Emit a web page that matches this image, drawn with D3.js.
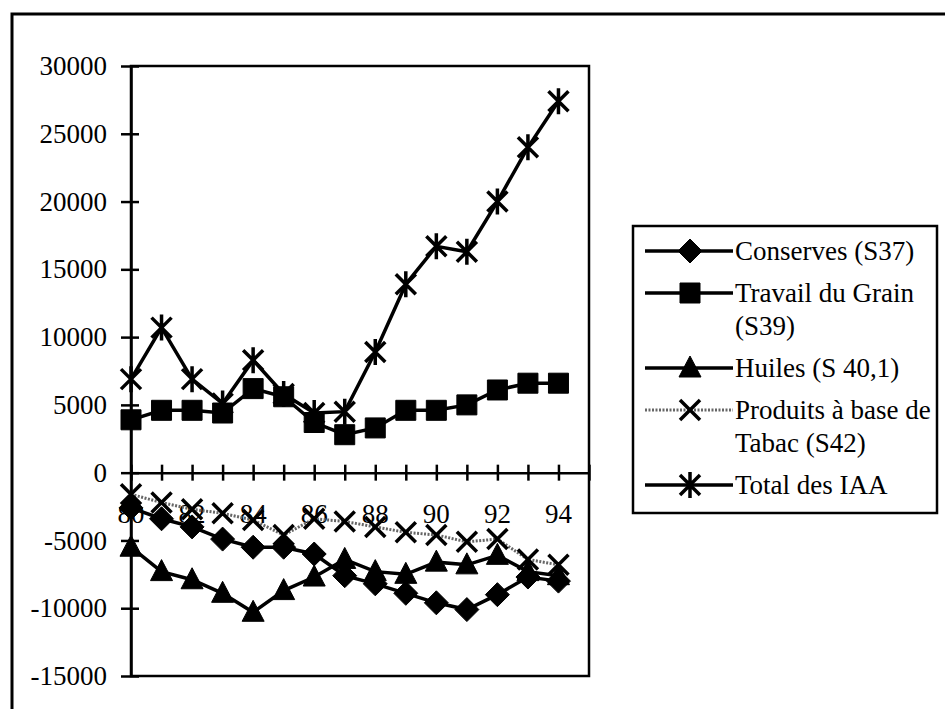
<!DOCTYPE html>
<html>
<head>
<meta charset="utf-8">
<script src="https://cdn.jsdelivr.net/npm/d3@7"></script>
<style>
  html, body { margin: 0; padding: 0; background: #fff; }
  svg { display: block; }
  text { font-family: "Liberation Serif", "Times New Roman", serif; fill: #000; }
</style>
</head>
<body>
<svg id="chart" width="945" height="709"></svg>
<script>
// ---- data ----
const years     = [80, 81, 82, 83, 84, 85, 86, 87, 88, 89, 90, 91, 92, 93, 94];
const yearTicks = [80, 82, 84, 86, 88, 90, 92, 94];
const yTicks    = [-15000, -10000, -5000, 0, 5000, 10000, 15000, 20000, 25000, 30000];

const conserves = [-2600, -3400, -4000, -4900, -5500, -5500, -6000, -7600, -8200, -8900, -9600, -10100, -9000, -7700, -8000];
const travail   = [3900, 4600, 4600, 4400, 6200, 5600, 3700, 2800, 3300, 4600, 4600, 5000, 6100, 6600, 6600];
const huiles    = [-5500, -7300, -7900, -8900, -10300, -8700, -7700, -6400, -7300, -7500, -6600, -6800, -6100, -7300, -7600];
const tabac     = [-1600, -2200, -2700, -3000, -3500, -4600, -3400, -3600, -4000, -4400, -4600, -5100, -4900, -6400, -6800];
const total     = [6900, 10700, 6900, 5100, 8300, 5800, 4400, 4500, 8900, 13900, 16700, 16300, 20000, 24000, 27400];

const seriesNames = ["Conserves (S37)", "Travail du Grain\n(S39)", "Huiles (S 40,1)", "Produits à base de\nTabac (S42)", "Total des IAA"];

// ---- setup ----
const svg = d3.select("#chart");
const L = 131, R = 589, T = 66, B = 676;
const x = d3.scaleLinear().domain([80, 95]).range([L, R]);
const y = d3.scaleLinear().domain([-15000, 30000]).range([B, T]);

// outer frame (top & left visible)
svg.append("path")
  .attr("d", `M12,709 L12,14 L945,14`)
  .attr("fill", "none").attr("stroke", "#000").attr("stroke-width", 3);

// plot area border
svg.append("rect")
  .attr("x", L).attr("y", T).attr("width", R - L).attr("height", B - T)
  .attr("fill", "none").attr("stroke", "#000").attr("stroke-width", 2.5);

// y axis with cross ticks
const yAxisG = svg.append("g").attr("transform", `translate(${L},0)`)
  .call(d3.axisLeft(y).tickValues(yTicks).tickSize(0).tickPadding(24)
    .tickFormat(d => (d < 0 ? "-" : "") + Math.abs(d)));
yAxisG.select(".domain").attr("stroke-width", 2.5);
yAxisG.selectAll("text").attr("font-size", 27).attr("font-family", "Liberation Serif, serif");
yAxisG.selectAll(".tick").append("line")
  .attr("x1", -10).attr("x2", 8).attr("stroke", "#000").attr("stroke-width", 2.5);

// x axis along zero, cross ticks at every category
const xAxisG = svg.append("g").attr("transform", `translate(0,${y(0)})`)
  .call(d3.axisBottom(x).tickValues(years.concat([95])).tickSize(0).tickFormat(""));
xAxisG.select(".domain").attr("stroke-width", 2.5);
xAxisG.selectAll(".tick").append("line")
  .attr("y1", -8).attr("y2", 8).attr("stroke", "#000").attr("stroke-width", 2.5);

// x tick labels (even years)
svg.append("g").selectAll("text").data(yearTicks).join("text")
  .attr("x", d => x(d)).attr("y", y(0) + 50)
  .attr("text-anchor", "middle").attr("font-size", 27)
  .text(d => d);

// ---- markers ----
function markerPath(type) {
  switch (type) {
    case "diamond": return "M0,-12 L12,0 L0,12 L-12,0 Z";
    case "square":  return "M-10,-10 L10,-10 L10,10 L-10,10 Z";
    case "triangle":return "M0,-12 L11,9 L-11,9 Z";
    case "x":       return "M-10,-10 L10,10 M10,-10 L-10,10";
    case "star":    return "M-10,-10 L10,10 M10,-10 L-10,10 M0,-13 L0,13";
  }
}
const series = [
  { name: seriesNames[0], values: conserves, marker: "diamond", stroke: "#000", width: 3.5, dash: null, filled: true },
  { name: seriesNames[1], values: travail,   marker: "square",  stroke: "#000", width: 3.5, dash: null, filled: true },
  { name: seriesNames[2], values: huiles,    marker: "triangle",stroke: "#000", width: 3.5, dash: null, filled: true },
  { name: seriesNames[3], values: tabac,     marker: "x",       stroke: "#666", width: 3, dash: "2,1.5", filled: false },
  { name: seriesNames[4], values: total,     marker: "star",    stroke: "#000", width: 3.5, dash: null, filled: false }
];

const line = d3.line().x((d, i) => x(years[i])).y(d => y(d));

series.forEach(s => {
  const g = svg.append("g");
  g.append("path").datum(s.values)
    .attr("d", line)
    .attr("fill", "none").attr("stroke", s.stroke).attr("stroke-width", s.width)
    .attr("stroke-dasharray", s.dash);
  g.selectAll("path.m").data(s.values).join("path").attr("class", "m")
    .attr("transform", (d, i) => `translate(${x(years[i])},${y(d)})`)
    .attr("d", markerPath(s.marker))
    .attr("fill", s.filled ? "#000" : "none")
    .attr("stroke", "#000")
    .attr("stroke-width", s.filled ? 1 : 3.5);
});

// ---- legend ----
const lg = svg.append("g");
lg.append("rect").attr("x", 633).attr("y", 226).attr("width", 304).attr("height", 287)
  .attr("fill", "#fff").attr("stroke", "#000").attr("stroke-width", 2.5);

let cy = 251;
series.forEach(s => {
  const lines = s.name.split("\n");
  lg.append("line").attr("x1", 645).attr("x2", 733).attr("y1", cy).attr("y2", cy)
    .attr("stroke", s.stroke).attr("stroke-width", s.width)
    .attr("stroke-dasharray", s.dash);
  lg.append("path").attr("transform", `translate(690,${cy})`)
    .attr("d", markerPath(s.marker))
    .attr("fill", s.filled ? "#000" : "none")
    .attr("stroke", "#000").attr("stroke-width", s.filled ? 1 : 3.5);
  const t = lg.append("text").attr("x", 735).attr("y", cy).attr("font-size", 27);
  lines.forEach((ln, k) => {
    t.append("tspan").attr("x", 735).attr("y", cy + k * 33).attr("dy", "0.35em").text(ln);
  });
  cy += (lines.length - 1) * 33 + 42;
});
</script>
</body>
</html>
